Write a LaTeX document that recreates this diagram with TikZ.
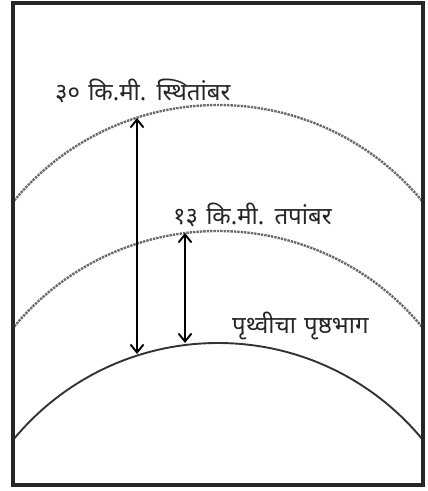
\documentclass[tikz,border=0pt]{standalone}
\usepackage{fontspec}
\newfontfamily\deva[Script=Devanagari,WordSpace=1.3]{Noto Sans}
\usetikzlibrary{arrows.meta}
\begin{document}
\begin{tikzpicture}[x=1pt,y=-1pt,
  lbl/.style={font=\deva\fontsize{24}{26}\selectfont, inner sep=0pt, anchor=base west, text=black!85},
  layer/.style={draw=black!58, line width=2.4pt, dash pattern=on 2.4pt off 1pt},
  surface/.style={draw=black!80, line width=1.9pt},
  meas/.style={line width=1.9pt, {Straight Barb[length=8pt,width=13pt,line width=1.9pt]}-{Straight Barb[length=8pt,width=13pt,line width=1.9pt]}},
  frame/.style={draw=black!85, line width=3.2pt}]
\useasboundingbox (0,0) rectangle (428,491);
\fill[white] (0,0) rectangle (428,491);
\begin{scope}
\clip (13,3) rectangle (423,485);
\draw[layer] (218,370) circle[radius=265];
\draw[layer] (218,496) circle[radius=265];
\draw[surface] (218,608) circle[radius=265];
\end{scope}
\draw[frame] (13,3) rectangle (423,485);
\coordinate (a1) at (137,118);
\coordinate (a2) at (137,354);
\coordinate (b1) at (185,233);
\coordinate (b2) at (185,343);
\draw[meas] (a1) -- (a2);
\draw[meas] (b1) -- (b2);
\node[lbl] (t1) at (55,100) {३० कि.मी. स्थितांबर};
\node[lbl] (t2) at (173,224) {१३ कि.मी. तपांबर};
\node[lbl] (t3) at (232,333) {पृथ्वीचा पृष्ठभाग};
\end{tikzpicture}
\end{document}
